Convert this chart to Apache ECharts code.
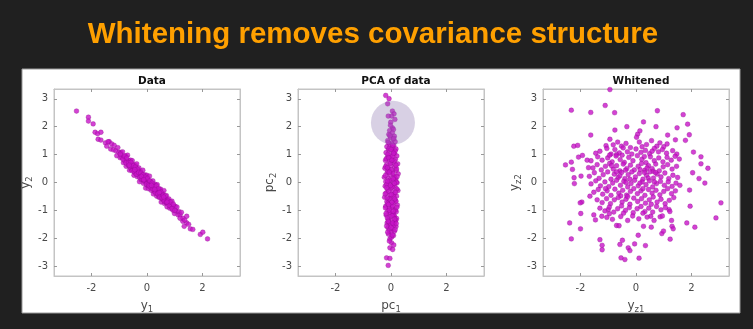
<!DOCTYPE html>
<html><head><meta charset="utf-8">
<script src="https://cdn.jsdelivr.net/npm/echarts@6/dist/echarts.min.js"></script>
<style>html,body{margin:0;padding:0;background:#202020;}#c{width:753px;height:329px;}</style>
</head><body><div id="c"></div>
<script>
// ---------- data ----------
const mainTitle = 'Whitening removes covariance structure';
const panelTitles = ['Data', 'PCA of data', 'Whitened'];
const xNames = [['y', '1'], ['pc', '1'], ['y', 'z1']];
const yNames = [['y', '2'], ['pc', '2'], ['y', 'z2']];
const xTicks = [-2, 0, 2];
const yTicks = [-3, -2, -1, 0, 1, 2, 3];
const axisMin = -3.35, axisMax = 3.35;

const dataPoints = [
[-2.54,2.56],[-2.11,2.34],[-2.11,2.20],[-1.94,2.10],[-1.87,1.80],[-1.78,1.75],[-1.66,1.80],[-1.76,1.55],[-1.66,1.52],[-1.50,1.42],[-1.36,1.46],[-1.45,1.30],
[-1.40,1.46],[-1.31,1.20],[-1.27,1.38],[-1.21,1.17],[-1.18,1.33],[-1.12,1.14],[-1.09,0.96],[-1.05,1.25],[-1.01,1.08],[-0.97,0.89],[-0.94,1.08],[-0.91,0.91],
[-0.88,1.10],[-0.85,0.71],[-0.83,0.92],[-0.80,0.78],[-0.77,0.95],[-0.75,0.58],[-0.72,0.77],[-0.70,0.98],[-0.68,0.62],[-0.65,0.78],[-0.63,0.44],[-0.61,0.68],
[-0.59,0.80],[-0.57,0.48],[-0.55,0.58],[-0.53,0.78],[-0.51,0.48],[-0.49,0.65],[-0.47,0.26],[-0.45,0.52],[-0.43,0.34],[-0.41,0.61],[-0.39,0.39],[-0.37,0.67],
[-0.35,0.21],[-0.33,0.44],[-0.31,0.27],[-0.29,0.52],[-0.27,0.03],[-0.25,0.30],[-0.23,0.40],[-0.21,0.10],[-0.19,0.31],[-0.17,0.19],[-0.15,0.44],[-0.13,-0.03],
[-0.11,0.21],[-0.09,0.04],[-0.07,0.27],[-0.05,-0.20],[-0.03,0.04],[-0.01,0.26],[0.01,-0.10],[0.03,0.11],[0.05,-0.22],[0.07,0.00],[0.09,0.23],[0.11,-0.13],
[0.13,0.04],[0.15,-0.28],[0.17,-0.05],[0.19,-0.14],[0.21,0.06],[0.23,-0.41],[0.25,-0.09],[0.27,-0.32],[0.29,-0.06],[0.31,-0.30],[0.33,-0.24],[0.35,-0.49],
[0.37,-0.08],[0.39,-0.42],[0.41,-0.27],[0.43,-0.53],[0.45,-0.25],[0.47,-0.44],[0.49,-0.24],[0.51,-0.70],[0.53,-0.42],[0.55,-0.60],[0.57,-0.39],[0.59,-0.58],
[0.61,-0.29],[0.63,-0.75],[0.65,-0.56],[0.68,-0.71],[0.70,-0.47],[0.72,-0.87],[0.74,-0.61],[0.77,-0.74],[0.79,-0.59],[0.82,-0.92],[0.84,-0.74],[0.87,-0.87],
[0.90,-0.67],[0.93,-0.99],[0.96,-0.83],[0.99,-1.11],[1.02,-0.86],[1.05,-1.02],[1.08,-0.88],[1.12,-1.16],[1.15,-1.04],[1.19,-1.15],[1.24,-1.07],[1.29,-1.39],
[-0.96,1.02],[-0.87,0.84],[-0.81,0.95],[-0.76,0.70],[-0.73,0.88],[-0.66,0.70],[-0.62,0.56],[-0.58,0.72],[-0.54,0.42],[-0.50,0.60],[-0.46,0.40],[-0.42,0.55],
[-0.38,0.30],[-0.34,0.48],[-0.30,0.36],[-0.26,0.18],[-0.22,0.34],[-0.18,0.12],[-0.14,0.28],[-0.10,0.09],[-0.06,0.19],[-0.02,-0.06],[0.02,0.15],[0.06,-0.08],
[0.10,0.06],[0.14,-0.19],[0.18,-0.02],[0.22,-0.24],[0.26,-0.15],[0.30,-0.36],[0.34,-0.12],[0.38,-0.40],[0.42,-0.22],[0.46,-0.52],[0.50,-0.34],[0.54,-0.55],
[0.58,-0.46],[0.62,-0.66],[0.66,-0.48],[0.70,-0.72],[0.75,-0.66],[0.80,-0.82],[0.85,-0.70],[0.90,-0.93],[0.95,-0.78],[1.00,-1.00],[-0.44,0.46],[-0.20,0.22],
[0.08,-0.12],[0.28,-0.25],[0.60,-0.52],[-0.64,0.62],[-0.12,0.10],[0.16,-0.10],[0.44,-0.36],[0.72,-0.70],
[1.34,-1.57],[1.43,-1.21],[1.43,-1.45],[1.29,-1.28],[1.50,-1.50],[1.56,-1.66],[1.65,-1.68],[1.92,-1.86],[2.01,-1.78],[2.18,-2.02],[1.19,-1.28],[1.36,-1.35]
];

const pcaPoints = [
[-0.19,3.12],[-0.07,3.00],[-0.12,2.82],[0.05,2.56],[0.11,2.46],[0.02,2.38],[-0.10,2.38],[0.14,2.26],[-0.01,2.16],[0.05,1.96],[-0.05,1.86],[0.09,1.90],[-0.02,2.05],
[0.05,1.78],[-0.08,1.72],[0.12,1.66],[-0.02,1.62],[0.08,1.55],[-0.12,1.50],[0.15,1.46],[0.01,1.41],[-0.06,1.37],[0.10,1.32],[-0.15,1.28],[0.04,1.24],[0.18,1.20],
[-0.09,1.16],[0.07,1.11],[-0.18,1.07],[0.13,1.03],[-0.03,0.99],[0.21,0.95],[-0.13,0.91],[0.02,0.87],[0.16,0.83],[-0.20,0.79],[-0.05,0.75],[0.09,0.71],[0.24,0.67],
[-0.16,0.63],[0.00,0.59],[0.14,0.55],[-0.22,0.51],[-0.08,0.47],[0.19,0.43],[0.05,0.39],[-0.14,0.35],[0.26,0.31],[-0.03,0.27],[0.11,0.23],[-0.24,0.19],[-0.10,0.15],
[0.17,0.11],[0.03,0.07],[-0.19,0.03],[0.22,-0.01],[-0.06,-0.05],[0.08,-0.09],[-0.21,-0.13],[0.15,-0.17],[0.00,-0.21],[-0.12,-0.25],[0.25,-0.29],[0.06,-0.33],
[-0.17,-0.37],[0.12,-0.41],[-0.04,-0.45],[0.20,-0.49],[-0.23,-0.53],[0.02,-0.57],[-0.09,-0.61],[0.16,-0.65],[-0.15,-0.69],[0.09,-0.73],[-0.01,-0.77],[0.23,-0.81],
[-0.19,-0.85],[0.04,-0.89],[-0.07,-0.93],[0.14,-0.97],[-0.12,-1.01],[0.19,-1.05],[-0.02,-1.09],[0.07,-1.13],[-0.17,-1.17],[0.12,-1.21],[-0.05,-1.25],[0.20,-1.29],
[-0.10,-1.33],[0.03,-1.37],[0.15,-1.41],[-0.14,-1.45],[0.08,-1.49],[-0.03,-1.54],[0.18,-1.58],[-0.11,-1.62],[0.05,-1.66],[-0.06,-1.71],[0.12,-1.75],[0.00,-1.80],
[-0.09,-1.85],[0.09,-1.90],[0.02,-1.96],[-0.04,-2.02],
[-0.04,1.68],[0.10,1.58],[-0.10,1.44],[0.06,1.34],[-0.07,1.22],[0.15,1.13],[-0.11,1.01],[0.05,0.93],[-0.17,0.85],[0.12,0.77],[-0.02,0.69],[-0.19,0.57],[0.20,0.49],
[-0.11,0.41],[0.07,0.33],[-0.20,0.25],[0.14,0.17],[-0.03,0.09],[0.19,0.01],[-0.15,-0.07],[0.04,-0.15],[0.21,-0.23],[-0.08,-0.31],[-0.21,-0.41],[0.10,-0.51],
[-0.06,-0.59],[0.18,-0.67],[-0.12,-0.75],[0.06,-0.83],[-0.20,-0.91],[0.16,-0.99],[-0.04,-1.07],[0.10,-1.17],[-0.13,-1.27],[0.17,-1.35],[-0.07,-1.43],[0.11,-1.52],
[0.00,-1.61],[0.15,-1.69],[-0.12,-1.78],[0.05,-1.88],
[0.00,1.18],[0.09,1.05],[-0.08,0.89],[0.03,0.80],[0.18,0.62],[-0.13,0.53],[0.01,0.45],[-0.06,0.37],[0.22,0.21],[0.08,0.13],[-0.12,0.05],[0.12,-0.03],[-0.02,-0.11],
[-0.16,-0.19],[0.16,-0.35],[0.01,-0.43],[-0.14,-0.55],[0.13,-0.59],[0.03,-0.71],[-0.09,-0.79],[0.21,-0.89],[-0.06,-0.99],[0.08,-1.03],[-0.18,-1.11],[0.04,-1.19],
[0.13,-1.31],[-0.10,-1.39],[0.06,-1.45],[0.19,-1.47],[-0.16,-1.56],
[-0.16,-2.70],[-0.10,-2.97],[-0.04,-2.72],[-0.04,-2.34],[0.06,-2.40],[0.02,-2.16],[-0.06,-2.10],[0.10,-2.24]
];
const pcaHighlight = [[0.07, 2.14]];

const whitenedPoints = [
[-0.94,3.33],[-2.33,2.59],[-1.63,2.51],[-1.11,2.76],[-0.77,2.50],[0.77,2.57],[1.70,2.43],[1.86,2.09],[0.27,2.17],[0.72,2.00],[-0.33,2.00],[-0.76,1.88],
[-1.63,1.70],[0.06,1.73],[0.14,1.85],[1.92,1.71],[1.48,1.96],[1.14,1.70],[1.78,1.51],[1.42,1.53],[2.07,1.09],[2.34,0.92],[2.34,0.67],[2.59,0.51],[2.48,-0.02],
[2.27,0.14],[2.04,0.35],[1.93,-0.27],[1.95,-0.85],[1.83,-1.45],[2.12,-1.60],[2.88,-1.27],[3.06,-0.73],[-2.54,0.63],[-2.33,0.73],[-2.29,0.47],[-2.23,0.17],
[-2.22,-0.04],[-2.07,0.91],[-2.24,1.30],[-2.10,1.33],[-1.93,0.97],[-1.76,0.80],[-1.71,0.53],[-1.98,0.23],[-1.95,-0.70],[-2.01,-0.73],[-1.99,-1.11],[-2.00,-1.66],
[-2.39,-1.45],[-2.33,-2.02],[-1.66,-0.49],[-1.52,-1.16],[-1.46,-1.34],[-1.30,-2.05],[-1.22,-2.25],[-1.22,-2.41],[-1.23,-1.21],[-1.00,-0.97],[-0.96,-1.12],
[-0.70,-1.54],[-0.61,-1.55],[-0.58,-2.22],[-0.49,-2.07],[-0.28,-2.34],[-0.22,-2.44],[-0.54,-2.70],[-0.40,-2.76],[0.11,-2.71],[-0.05,-2.20],[0.34,-2.26],
[0.08,-1.89],[0.27,-1.57],[0.55,-1.60],[0.93,-1.83],[0.99,-1.74],[1.23,-2.03],[1.28,-1.36],[1.30,-1.57],[1.34,-1.66],[1.19,-0.97],[0.87,-1.23],[0.53,-1.21],
[-0.94,1.55],[-0.82,1.35],[-0.66,1.45],[-0.52,1.30],[-0.36,1.40],[-0.20,1.25],[0.02,1.62],[0.12,1.45],[0.38,1.36],[0.56,1.50],[0.75,1.30],[0.86,1.42],[1.00,1.28],
[1.12,1.38],[-1.08,1.32],[0.22,1.28],
[-1.45,1.05],[-1.30,1.12],[-1.05,1.22],[-0.90,1.02],[-0.76,1.18],[-0.60,1.06],[-0.46,1.24],[-0.31,1.10],[-0.15,1.02],[0.00,1.20],[0.18,1.08],[0.34,1.15],
[0.49,1.03],[0.66,1.22],[0.81,1.10],[0.95,1.18],[1.10,1.05],[1.32,1.14],[1.47,1.02],[-0.70,1.00],[0.58,1.12],
[-1.62,0.78],[-1.38,0.92],[-1.22,0.80],[-1.02,0.88],[-0.86,0.74],[-0.72,0.95],[-0.57,0.82],[-0.42,0.72],[-0.26,0.90],[-0.11,0.78],[0.05,0.96],[0.21,0.83],
[0.36,0.71],[0.52,0.92],[0.66,0.78],[0.82,0.88],[0.97,0.74],[1.12,0.90],[1.27,0.80],[1.41,0.94],[1.56,0.84],[-0.50,0.98],[0.30,0.93],[-0.95,0.98],
[-1.55,0.52],[-1.40,0.64],[-1.25,0.45],[-1.10,0.58],[-0.95,0.68],[-0.82,0.48],[-0.70,0.60],[-0.58,0.42],[-0.46,0.66],[-0.33,0.50],[-0.20,0.62],[-0.06,0.45],
[0.08,0.58],[0.20,0.68],[0.32,0.44],[0.45,0.60],[0.58,0.50],[0.71,0.66],[0.84,0.42],[0.98,0.56],[1.14,0.64],[1.30,0.48],[1.46,0.58],[-0.88,0.60],[0.40,0.52],
[0.62,0.40],[-0.38,0.44],[0.15,0.46],
[-1.68,0.22],[-1.50,0.35],[-1.33,0.15],[-1.18,0.28],[-1.02,0.38],[-0.90,0.12],[-0.78,0.30],[-0.64,0.18],[-0.52,0.36],[-0.40,0.14],[-0.28,0.28],[-0.15,0.38],
[-0.02,0.20],[0.12,0.32],[0.25,0.12],[0.38,0.26],[0.50,0.38],[0.63,0.16],[0.76,0.30],[0.90,0.20],[1.04,0.34],[1.18,0.14],[1.33,0.26],[1.50,0.18],[-0.70,0.38],
[0.44,0.16],[-0.22,0.12],[0.70,0.36],[-0.58,0.24],[0.30,0.36],
[-1.62,-0.05],[-1.45,0.06],[-1.28,-0.12],[-1.12,0.02],[-0.98,-0.15],[-0.84,-0.02],[-0.70,0.08],[-0.56,-0.10],[-0.44,0.04],[-0.30,-0.16],[-0.18,-0.04],
[-0.05,0.08],[0.08,-0.12],[0.22,0.02],[0.36,-0.08],[0.48,0.06],[0.60,-0.16],[0.74,-0.04],[0.88,0.04],[1.02,-0.10],[1.16,0.02],[1.30,-0.14],[1.44,-0.02],
[1.58,-0.10],[-0.36,0.00],[0.14,-0.02],[0.66,0.02],
[-1.52,-0.35],[-1.36,-0.25],[-1.20,-0.42],[-1.04,-0.30],[-0.90,-0.46],[-0.76,-0.24],[-0.62,-0.38],[-0.48,-0.28],[-0.34,-0.45],[-0.20,-0.32],[-0.08,-0.22],
[0.05,-0.40],[0.18,-0.30],[0.32,-0.46],[0.45,-0.25],[0.58,-0.38],[0.72,-0.28],[0.86,-0.44],[1.00,-0.32],[1.14,-0.22],[1.28,-0.40],[1.42,-0.30],[-0.55,-0.48],
[0.25,-0.22],[-1.10,-0.22],
[-1.40,-0.62],[-1.22,-0.72],[-1.06,-0.58],[-0.92,-0.76],[-0.78,-0.62],[-0.64,-0.54],[-0.50,-0.70],[-0.36,-0.60],[-0.22,-0.78],[-0.08,-0.56],[0.06,-0.68],
[0.20,-0.58],[0.34,-0.74],[0.48,-0.62],[0.62,-0.52],[0.76,-0.70],[0.90,-0.60],[1.05,-0.76],[1.20,-0.64],[1.36,-0.54],[-0.30,-0.50],[0.55,-0.78],
[-1.30,-0.92],[-1.12,-1.02],[-0.96,-0.88],[-0.80,-1.06],[-0.66,-0.94],[-0.52,-0.84],[-0.38,-1.00],[-0.24,-0.90],[-0.10,-1.08],[0.04,-0.94],[0.18,-0.86],
[0.32,-1.04],[0.46,-0.92],[0.60,-1.06],[0.74,-0.86],[0.90,-0.98],[1.06,-0.90],[1.22,-1.04],[-0.45,-1.10],[0.25,-1.10],
[-1.05,-1.25],[-0.85,-1.32],[-0.55,-1.22],[-0.30,-1.36],[-0.12,-1.20],[0.10,-1.30],[0.40,-1.24],[0.65,-1.36],[0.95,-1.20]
];

// ---------- chart ----------
const chart = echarts.init(document.getElementById('c'), null, {renderer: 'canvas'});
const gridLefts = [54, 298, 543];
const boxW = 186, boxH = 187, boxTop = 89;
const lblColor = '#4a4a4a';
const lineColor = '#c4c4c4';
const font = 'DejaVu Sans';
const ptColor = '#c814c8';

const grids = [], xAxes = [], yAxes = [], series = [];
const nameRich = {
  b: {fontSize: 12, color: lblColor, fontFamily: font, lineHeight: 16},
  s: {fontSize: 8.5, color: lblColor, fontFamily: font, lineHeight: 16, verticalAlign: 'bottom', padding: [6, 0, 0, 0]}
};
const sets = [dataPoints, pcaPoints, whitenedPoints];

gridLefts.forEach((l, i) => {
  grids.push({left: l, top: boxTop, width: boxW, height: boxH, show: true,
    backgroundColor: '#ffffff', borderColor: lineColor, borderWidth: 1});
  const common = {min: axisMin, max: axisMax, gridIndex: i, type: 'value',
    splitLine: {show: false}, axisLine: {show: true, onZero: false, lineStyle: {color: lineColor}}};
  xAxes.push(Object.assign({}, common, {position: 'bottom',
    name: '{b|' + xNames[i][0] + '}{s|' + xNames[i][1] + '}', nameLocation: 'middle', nameGap: 22,
    nameTextStyle: {rich: nameRich},
    axisTick: {show: true, inside: true, length: 3, customValues: xTicks, lineStyle: {color: '#999'}},
    axisLabel: {customValues: xTicks, color: lblColor, fontSize: 10, fontFamily: font, margin: 7}}));
  xAxes.push(Object.assign({}, common, {position: 'top',
    axisTick: {show: true, inside: true, length: 3, customValues: xTicks, lineStyle: {color: '#999'}},
    axisLabel: {show: false}}));
  yAxes.push(Object.assign({}, common, {position: 'left',
    name: '{b|' + yNames[i][0] + '}{s|' + yNames[i][1] + '}', nameLocation: 'middle', nameGap: 20,
    nameTextStyle: {rich: nameRich},
    axisTick: {show: true, inside: true, length: 3, customValues: yTicks, lineStyle: {color: '#999'}},
    axisLabel: {customValues: yTicks, color: lblColor, fontSize: 10, fontFamily: font, margin: 6}}));
  yAxes.push(Object.assign({}, common, {position: 'right',
    axisTick: {show: true, inside: true, length: 3, customValues: yTicks, lineStyle: {color: '#999'}},
    axisLabel: {show: false}}));
  series.push({type: 'scatter', xAxisIndex: 2 * i, yAxisIndex: 2 * i, data: sets[i],
    symbolSize: 4.8, itemStyle: {color: ptColor, borderColor: '#8e0a8e', borderWidth: 0.4}, z: 3});
});
series.push({type: 'scatter', xAxisIndex: 2, yAxisIndex: 2, data: pcaHighlight, symbolSize: 44,
  itemStyle: {color: 'rgba(140,115,175,0.42)'}, z: 4, silent: true});

const titles = [{text: mainTitle, left: 368, top: 15, textAlign: 'center',
  textStyle: {color: '#ffa000', fontSize: 29.5, fontWeight: 'bold', fontFamily: 'Liberation Sans'}}];
panelTitles.forEach((t, i) => titles.push({text: t, left: gridLefts[i] + boxW / 2, top: 71, textAlign: 'center',
  textStyle: {color: '#111', fontSize: 10.5, fontWeight: 'bold', fontFamily: font}}));

chart.setOption({
  animation: false,
  backgroundColor: '#202020',
  title: titles,
  graphic: [{type: 'rect', shape: {x: 22, y: 69, width: 718, height: 244}, style: {fill: '#ffffff', stroke: '#9a9a9a', lineWidth: 1}, z: -10}],
  grid: grids, xAxis: xAxes, yAxis: yAxes, series: series
});
</script></body></html>
